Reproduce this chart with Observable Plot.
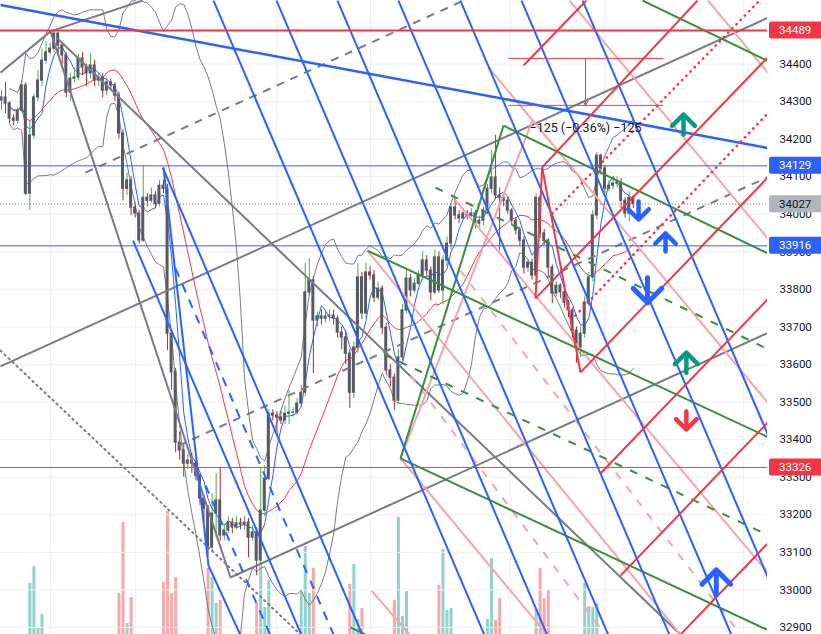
<!DOCTYPE html>
<html>
<head>
<meta charset="utf-8">
<script src="https://cdn.jsdelivr.net/npm/d3@7"></script>
<script src="https://cdn.jsdelivr.net/npm/@observablehq/plot@0.6"></script>
<style>
  body { margin: 0; background: #fff; font-family: Roboto, "Liberation Sans", sans-serif; }
  #chart { position: relative; width: 821px; height: 634px; overflow: hidden; }
  #chart svg { position: absolute; left: 0; top: 0; }
</style>
</head>
<body>
<div id="chart"></div>
<script>
// bougies (index de barre -> prix)
const firstOpen = 34303
const closes = [34311,34295,34255,34249,34276,34343,34055,34210,34311,34356,
34409,34431,34441,34481,34449,34423,34324,34361,34364,34415,
34391,34375,34396,34356,34364,34329,34351,34343,34316,34215,
34068,34090,34018,34002,33930,34044,34036,34050,34028,34076,
34068,33682,33579,33392,33371,33336,33344,33336,33304,33243,
33216,33113,33203,33238,33145,33158,33179,33166,33177,33174,
33179,33139,33153,33078,33211,33296,33469,33464,33459,33451,
33469,33472,33472,33496,33525,33792,33824,33717,33728,33722,
33728,33730,33722,33685,33672,33629,33525,33645,33832,33736,
33845,33837,33778,33802,33698,33584,33565,33504,33619,33744,
33829,33797,33815,33837,33877,33850,33792,33885,33797,33877,
33922,34018,33997,33989,34002,33997,34002,33975,33983,34010,
34068,34098,34050,34044,34036,34010,33983,33957,33930,33858,
33871,33837,34044,33949,33930,33858,33789,33810,33792,33765,
33744,33690,33645,33682,33765,33832,33997,34156,34122,34068,
34076,34082,34084,34036,34002,34044,34027]
const highs = [34330,34351,34300,34265,34285,34355,34350,34250,34320,34383,
34440,34460,34455,34489,34485,34455,34430,34375,34390,34425,
34430,34400,34428,34410,34375,34375,34365,34360,34350,34325,
34225,34110,34100,34030,34010,34130,34055,34070,34060,34090,
34090,34080,33690,33590,33420,33390,33360,33365,33345,33310,
33250,33225,33256,33310,33326,33175,33195,33190,33195,33190,
33195,33190,33170,33165,33326,33330,33480,33480,33475,33475,
33490,33531,33485,33510,33545,33869,33882,33835,33740,33745,
33745,33745,33745,33730,33700,33690,33640,33660,33869,33845,
33870,33860,33850,33820,33810,33710,33600,33575,33640,33760,
33850,33840,33830,33850,33900,33890,33860,33905,33900,33890,
33940,34030,34042,34010,34015,34010,34015,34010,33995,34020,
34080,34170,34210,34070,34050,34045,34015,33990,33965,33940,
33880,33880,34055,34050,33960,33935,33865,33820,33815,33800,
33770,33750,33700,33700,33780,33845,34010,34164,34160,34130,
34090,34095,34100,34095,34045,34060,34050]
const lows = [34276,34268,34240,34235,34240,34270,34050,34010,34200,34300,
34340,34400,34425,34430,34420,34400,34310,34300,34350,34355,
34370,34340,34360,34340,34340,34310,34315,34330,34300,34200,
34036,34050,33996,33990,33920,33925,34020,34030,34015,34020,
34055,33637,33531,33365,33345,33300,33320,33310,33290,33225,
33180,33090,33100,33140,33130,33130,33150,33150,33160,33160,
33160,33086,33130,33038,33070,33195,33290,33450,33411,33440,
33440,33440,33460,33465,33485,33515,33780,33576,33700,33705,
33710,33715,33705,33670,33640,33600,33483,33510,33630,33720,
33725,33825,33765,33770,33680,33570,33540,33478,33495,33610,
33735,33780,33790,33810,33825,33835,33770,33785,33790,33760,
33860,33905,33985,33975,33985,33985,33990,33960,33965,33970,
34000,34055,34040,33903,34020,34000,33970,33945,33915,33840,
33845,33825,33830,33935,33915,33832,33762,33780,33775,33750,
33725,33670,33603,33618,33670,33755,33820,33985,34105,34055,
34060,34065,34070,34015,33990,33980,34015]

// volume (seules les barres visibles)
const volIndex = [7,8,9,10, 29,30,31,32, 40,41,42,43, 51,52,53,54, 63,64,65,66,
  74,75,76,77, 86,87,88,89, 97,98,99,100, 108,109,110,111, 120,121,122,123,
  132,133,134,135, 144,145,146,147]
const volValue = [510,680,60,200, 410,1120,110,370, 520,1230,410,570, 660,570,310,340, 310,720,270,540,
  420,880,410,660, 500,700,150,260, 340,1170,180,430, 490,850,240,260, 150,760,140,360,
  250,660,360,440, 510,280,270,310]

const priceTicks = d3.range(32900, 34501, 100)
const gridBars = [12.1, 33.1, 67.9, 91.1, 125.7, 148.9, 183.2]

// niveaux horizontaux
const levelPrice = [34489, 34129, 34027, 33916, 33326]

// dessins : [barre1, prix1, barre2, prix2]
const blueTrend = [
  [40.0,34124, 51.1,33065],
  [51.1,33065, 58.94,32881],
  [32.47,33930, 74.0,32881],
  [39.83,34124, 89.06,32881],
  [52.35,34569, 119.2,32881],
  [67.9,34569, 134.7,32881],
  [82.96,34569, 149.8,32881],
  [98.0,34569, 164.9,32881],
  [113.3,34569, 180.2,32881],
  [128.4,34569, 189.4,33029],
  [143.5,34569, 189.4,33409]
]
const blueDashed = [[42.96,33856, 81.98,32881], [50.37,33278, 66.3,32881]]
const blueLong = [[-0.25,34557, 189.4,34176]]
const grayLines = [
  [-0.25,34377, 12.1,34487],
  [12.1,34487, 34.8,34569],
  [12.1,34487, 56.54,33033],
  [56.54,33033, 189.4,33685],
  [-0.25,33595, 189.4,34524],
  [13.83,34468, 167.65,32881]
]
const grayDashed = [[20.74,34111, 114.07,34569], [43.7,33384, 189.4,34100]]
const grayDotted = [[-0.25,33637, 73.83,32881]]
const greenLines = [
  [98.52,33350, 123.95,34236],
  [123.95,34236, 189.4,33895],
  [90.37,33903, 189.4,33406],
  [98.52,33350, 189.4,32892],
  [158.3,34569, 189.4,34407],
  [86.17,32900, 89.9,32881]
]
const greenDashed = [[107.16,34071, 189.4,33640], [94.44,33627, 189.4,33145]]
const pinkLines = [
  [90.37,33903, 167.65,32881],
  [140.25,34569, 189.4,33933],
  [174.44,34569, 189.4,34375],
  [120.25,34391, 189.4,33496],
  [112.1,34037, 189.4,33043],
  [98.52,33350, 134.3,32886],
  [91.36,32998, 100.74,32881],
  [98.52,33350, 131.1,34250]
]
const pinkDashed = [[113.3,33850, 182.47,32881], [101.0,33571, 149.1,32881]]
const redLines = [
  [128.9,34396, 144.4,34569],
  [133.5,34125, 171.85,34569],
  [131.85,33776, 189.4,34420],
  [142.96,33579, 189.4,34100],
  [147.9,33310, 189.4,33776],
  [152.84,33038, 189.4,33448],
  [167.65,32881, 189.4,33126],
  [131.85,33776, 133.5,34125],
  [133.5,34125, 142.96,33579]
]
const redDotted = [[136.0,34002, 187.16,34569], [141.7,33730, 189.4,34271]]

// outil de mesure
const measureLines = [[125.19,34415, 163.46,34415], [125.19,34290, 163.46,34290]]
const measureArrow = [[144.2,34415, 144.2,34290]]
const measureLabel = [{i: 144.2, p: 34231, text: "\u2212125 (\u22120.36%) \u2212125"}]

// fleches
const arrowIndex = [168.4, 157.3, 163.95, 159.5, 169.1, 169.1, 176.5]
const arrowPrice = [34239, 34010, 33925, 33798, 33605, 33451, 33020]
const arrowDir = ["up", "down", "up", "down", "up", "down", "up"]
const arrowKind = ["teal", "blue", "blue", "blueBig", "teal", "red", "blueBig"]

// ---- preparation
const candles = closes.map((c, i) => ({i, o: i ? closes[i - 1] : firstOpen, c, h: highs[i], l: lows[i]}))
const volumes = volIndex.map((i, k) => ({i, v: volValue[k], up: candles[i].c >= candles[i].o}))

// moyennes mobiles et bandes de Bollinger
const ind = closes.map((c, i) => {
  const w = closes.slice(Math.max(0, i - 19), i + 1)
  const m = d3.mean(w)
  const sd = Math.sqrt(d3.mean(w, v => (v - m) ** 2))
  return {i, fast: d3.mean(closes.slice(Math.max(0, i - 4), i + 1)), slow: m, upper: m + 2 * sd, lower: m - 2 * sd}
}).filter(d => d.i >= 2)

const arrows = arrowIndex.map((i, k) => ({i, p: arrowPrice[k], dir: arrowDir[k], kind: arrowKind[k]}))
const arrowColor = {teal: "#089981", blue: "#2962ff", blueBig: "#2962ff", red: "#f23645"}
const arrowLen = {teal: 20, blue: 18, blueBig: 25, red: 18}

const xDomain = [-0.25, 189.14]
const yDomain = [32881.2, 34569.2]
const W = 821, H = 634, MR = 54

const seg = (data, opts) => Plot.link(data, {x1: d => d[0], y1: d => d[1], x2: d => d[2], y2: d => d[3], clip: true, ...opts})

// couche du fond : grille + volume
const volPlot = Plot.plot({
  width: W, height: H, marginTop: 0, marginBottom: 0, marginLeft: 0, marginRight: MR,
  x: {domain: xDomain, axis: null},
  y: {domain: [0, 6340], axis: null},
  color: {type: "identity"},
  style: {background: "#fff"},
  marks: [
    Plot.ruleX(gridBars, {stroke: "#eef0f5"}),
    Plot.ruleX(volumes, {x: "i", y1: 0, y2: "v", stroke: d => d.up ? "#26a69a" : "#ef5350", strokeOpacity: 0.5, strokeWidth: 3})
  ]
})

const chart = Plot.plot({
  width: W, height: H, marginTop: 0, marginBottom: 0, marginLeft: 0, marginRight: MR,
  style: {background: "transparent", fontFamily: "Roboto, 'Liberation Sans', sans-serif", overflow: "visible"},
  x: {domain: xDomain, axis: null},
  y: {domain: yDomain},
  color: {type: "identity"},
  length: {type: "identity"},
  marks: [
    Plot.gridY(priceTicks, {stroke: "#eef0f5", strokeOpacity: 1}),
    Plot.axisY({ticks: priceTicks, anchor: "right", tickSize: 0, tickPadding: 12, tickFormat: d => String(d), fontSize: 11.5, fill: "#131722", label: null}),

    // indicateurs
    Plot.line(ind, {x: "i", y: "upper", stroke: "#787b86", strokeWidth: 1, clip: true}),
    Plot.line(ind, {x: "i", y: "lower", stroke: "#787b86", strokeWidth: 1, clip: true}),
    Plot.line(ind, {x: "i", y: "slow", stroke: "#f23645", strokeWidth: 1, clip: true}),
    Plot.line(ind, {x: "i", y: "fast", stroke: "#2962ff", strokeWidth: 1, clip: true}),

    // bougies
    Plot.ruleX(candles, {x: "i", y1: "l", y2: "h", stroke: d => d.c >= d.o ? "#4caf50" : "#b2282e", strokeWidth: 1}),
    Plot.rect(candles, {x1: d => d.i - 0.37, x2: d => d.i + 0.37, y1: "o", y2: "c", fill: "#575a64", insetTop: -0.6, insetBottom: -0.6}),

    // dessins
    seg(grayLines, {stroke: "#787b86", strokeWidth: 2}),
    seg(grayDashed, {stroke: "#787b86", strokeWidth: 2, strokeDasharray: "8,7"}),
    seg(grayDotted, {stroke: "#787b86", strokeWidth: 2, strokeDasharray: "1.5,4", strokeLinecap: "round"}),
    seg(pinkLines, {stroke: "#f7a4a9", strokeWidth: 2}),
    seg(pinkDashed, {stroke: "#f7a4a9", strokeWidth: 2, strokeDasharray: "8,9"}),
    seg(greenLines, {stroke: "#388e3c", strokeWidth: 2}),
    seg(greenDashed, {stroke: "#388e3c", strokeWidth: 2, strokeDasharray: "8,9"}),
    seg(blueTrend, {stroke: "#2962ff", strokeWidth: 2}),
    seg(blueDashed, {stroke: "#2962ff", strokeWidth: 2, strokeDasharray: "9,8"}),
    seg(blueLong, {stroke: "#2962ff", strokeWidth: 2.5}),
    seg(redLines, {stroke: "#f23645", strokeWidth: 2}),
    seg(redDotted, {stroke: "#f23645", strokeWidth: 2.5, strokeDasharray: "0.5,5.5", strokeLinecap: "round"}),

    // niveaux
    Plot.ruleY([levelPrice[0]], {stroke: "#f23645", strokeWidth: 2}),
    Plot.ruleY([levelPrice[1], levelPrice[3]], {stroke: "#2962ff", strokeWidth: 1}),
    Plot.ruleY([levelPrice[4]], {stroke: "#f23645", strokeWidth: 1}),
    Plot.ruleY([levelPrice[2]], {stroke: "#787b86", strokeWidth: 1, strokeDasharray: "1,2"}),

    // mesure
    seg(measureLines, {stroke: "#f23645", strokeWidth: 1}),
    Plot.arrow(measureArrow, {x1: d => d[0], y1: d => d[1], x2: d => d[2], y2: d => d[3], stroke: "#f23645", strokeWidth: 1, headLength: 7}),
    Plot.text(measureLabel, {x: "i", y: "p", text: "text", fontSize: 12.5, fill: "#131722"}),

    // fleches
    Plot.vector(arrows, {x: "i", y: "p", rotate: d => d.dir === "up" ? 0 : 180, length: d => arrowLen[d.kind],
      stroke: d => arrowColor[d.kind], strokeWidth: d => d.kind === "blueBig" ? 5 : 4.5, r: 10, anchor: "middle",
      strokeLinecap: "round", strokeLinejoin: "round"})
  ]
})

// etiquettes de prix sur l'axe
const levelBg = ["#f23645", "#2962ff", "#b2b5be", "#2962ff", "#f23645"]
const levelFg = ["#fff", "#fff", "#131722", "#fff", "#fff"]
const ys = chart.scale("y")
const tags = d3.select(chart).append("g").attr("font-size", 11.5).attr("text-anchor", "start")
levelPrice.forEach((p, k) => {
  const yy = ys.apply(p)
  tags.append("rect").attr("x", W - MR + 2).attr("y", yy - 8.5).attr("width", MR).attr("height", 17).attr("rx", 2).attr("fill", levelBg[k])
  tags.append("text").attr("x", W - MR + 12).attr("y", yy).attr("dy", "0.35em").attr("fill", levelFg[k]).text(p)
})

const root = document.getElementById("chart")
root.append(volPlot)
root.append(chart)
</script>
</body>
</html>
